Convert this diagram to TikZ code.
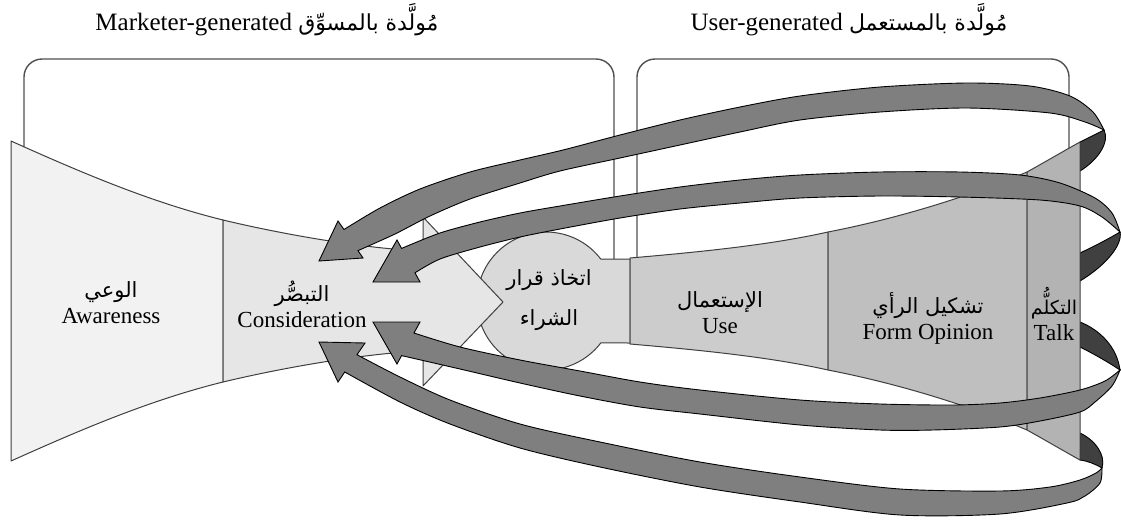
\documentclass[tikz,border=0pt]{standalone}
\usepackage{fontspec}
\setmainfont{Liberation Serif}
\newfontfamily\arabicfont[Script=Arabic]{DejaVu Sans}
\TeXXeTstate=1

\definecolor{awfill}{HTML}{F2F2F2}
\definecolor{cofill}{HTML}{E6E6E6}
\definecolor{defill}{HTML}{D9D9D9}
\definecolor{usfill}{HTML}{CCCCCC}
\definecolor{fofill}{HTML}{BFBFBF}
\definecolor{tafill}{HTML}{B3B3B3}
\definecolor{bandfront}{HTML}{7F7F7F}
\definecolor{bandback}{HTML}{404040}
\definecolor{edge}{HTML}{3F3F3F}
\definecolor{frame}{HTML}{505050}

% Arabic run, right to left, in DejaVu Sans
\newcommand\artxt[2][10.5]{{\arabicfont\fontsize{#1}{13}\selectfont\beginR #2\endR}}

\tikzset{
  panel/.style={draw=frame, line width=0.7pt, rounded corners=9pt, fill=white},
  stage/.style={draw=edge, line width=0.5pt, line join=round},
  ribbon/.style={fill=bandfront, draw=black, line width=0.45pt, line join=miter},
  ribbonback/.style={fill=bandback, draw=black, line width=0.45pt},
  lbl/.style={font=\fontsize{11.5}{13}\selectfont, align=center, inner sep=0pt},
  ttl/.style={font=\fontsize{12.5}{15}\selectfont, inner sep=0pt},
}

\begin{document}
\begin{tikzpicture}[x=0.5pt, y=-0.5pt]
\useasboundingbox (0,0) rectangle (1121,521);

% the two group frames
\draw[panel] (24,300) rectangle (614,59);
\draw[panel] (637,300) rectangle (1069,59);

% back faces of the ribbons, seen beside the last stage
\draw[ribbonback] (1080,142) .. controls (1090,137) and (1098,133) .. (1104,130)
  .. controls (1110,142) and (1098,160) .. (1080,171) -- cycle;
\draw[ribbonback] (1080,253) .. controls (1095,246) and (1110,238) .. (1120,232)
  .. controls (1123,245) and (1105,266) .. (1080,281) -- cycle;
\draw[ribbonback] (1080,322) .. controls (1100,330) and (1117,347) .. (1120,370)
  .. controls (1108,362) and (1094,354) .. (1080,347) -- cycle;
\draw[ribbonback] (1080,433) .. controls (1095,440) and (1106,455) .. (1102,468)
  .. controls (1095,464) and (1088,461) .. (1080,460) -- cycle;

% awareness
\draw[stage, fill=awfill] (11,141) .. controls (80,172) and (150,202) .. (223,220)
  -- (223,382) .. controls (150,400) and (80,430) .. (11,461) -- cycle;

% purchase decision: disc joined to a short bar
\draw[stage, fill=defill] (630,259) -- (600.8,259.1)
  arc[start angle=-37.4, end angle=-322.6, radius=69] -- (630,343) -- cycle;

% chevron pointing into the decision
\draw[stage, fill=cofill] (423,217) -- (503,302) -- (423,386) -- cycle;

% consideration (filled over the chevron's left side, then outlined)
\fill[cofill] (223,220) .. controls (290,236) and (370,249) .. (423,251) -- (427,251)
  -- (427,351) -- (423,351) .. controls (370,353) and (290,366) .. (223,382) -- cycle;
\draw[stage] (423,251) .. controls (370,249) and (290,236) .. (223,220)
  -- (223,382) .. controls (290,366) and (370,353) .. (423,351);

% use, form opinion, talk
\draw[stage, fill=usfill] (630,258) .. controls (700,252) and (770,245) .. (828,232)
  -- (828,370) .. controls (770,357) and (700,350) .. (630,344) -- cycle;
\draw[stage, fill=fofill] (828,232) .. controls (900,218) and (970,196) .. (1027,172)
  -- (1027,430) .. controls (970,406) and (900,384) .. (828,370) -- cycle;
\draw[stage, fill=tafill] (1027,172) .. controls (1045,162) and (1062,152) .. (1080,142)
  -- (1080,460) .. controls (1062,450) and (1045,440) .. (1027,430) -- cycle;

% front faces of the four ribbon arrows
\draw[ribbon] (319,261) -- (338,221) -- (344,229.5)
  -- plot[smooth] coordinates {(344,229.5) (380,208) (420,189) (470,172) (520,160) (563,150) (620,135) (680,120) (740,107) (800,96) (880,87) (967,83) (1030,86) (1070,96) (1093,112) (1104,130)}
  -- plot[smooth] coordinates {(1104,130) (1085,122) (1050,113) (967,108) (880,112) (800,120) (740,132) (680,145) (620,158) (560,171) (520,183) (470,199) (430,216) (395,234) (358,250.6)}
  -- (363,258) -- cycle;

\draw[ribbon] (373,282) -- (397,240) -- (401.6,248.4)
  -- plot[smooth] coordinates {(401.6,248.4) (440,233) (480,222) (520,213) (560,206) (620,196) (680,187) (740,180) (800,175) (880,172) (960,172) (1020,175) (1060,183) (1095,198) (1112,213) (1120,232)}
  -- plot[smooth] coordinates {(1120,232) (1102,217) (1080,206) (1040,200) (960,197) (880,196) (800,198) (740,203) (680,209) (620,218) (560,229) (520,237) (480,247) (440,259) (415,272.8)}
  -- (420,282) -- cycle;

\draw[ribbon] (373,322) -- (420,322) -- (414,333)
  -- plot[smooth] coordinates {(414,333) (460,347) (520,360) (580,371) (640,382) (700,390) (800,400) (880,404) (953,405) (1000,403) (1040,398) (1080,390) (1105,381) (1120,370)}
  -- plot[smooth] coordinates {(1120,370) (1112,386) (1095,402) (1080,412) (1040,421) (1000,427) (933,430) (880,430) (800,425) (700,414) (640,407) (580,396) (520,383) (460,369) (401.6,355.6)}
  -- (397,364) -- cycle;

\draw[ribbon] (319,342) -- (365,343) -- (357,354.7)
  -- plot[smooth] coordinates {(357,354.7) (400,377) (450,400) (520,424) (600,442) (700,462) (800,477) (900,489) (1000,491) (1050,487) (1080,480) (1096,473) (1102,468)}
  -- plot[smooth] coordinates {(1102,468) (1100,483) (1085,496) (1067,503) (1000,514) (900,515) (800,502) (700,487) (600,467) (520,448) (450,424) (400,402) (344.75,372)}
  -- (338,382) -- cycle;

% titles
\node[ttl] (ttlL) at (267,20) {Marketer-generated \artxt[11]{مُولَّدة بالمسوِّق}};
\node[ttl] (ttlR) at (849,20) {User-generated \artxt[11]{مُولَّدة بالمستعمل}};

% stage labels
\node[lbl] (lblAw) at (111,303) {\artxt{الوعي}\\Awareness};
\node[lbl] (lblCo) at (302,304) {\artxt{التبصُّر}\\Consideration};
\node[lbl] (lblDe) at (549,300) {\artxt{اتخاذ قرار}\\[7pt]\artxt{الشراء}};
\node[lbl] (lblUs) at (720,313) {\artxt{الإستعمال}\\Use};
\node[lbl] (lblFo) at (928,318) {\artxt{تشكيل الرأي}\\Form Opinion};
\node[lbl] (lblTa) at (1054,314) {\artxt[9.5]{التكلُّم}\\Talk};
\end{tikzpicture}
\end{document}
